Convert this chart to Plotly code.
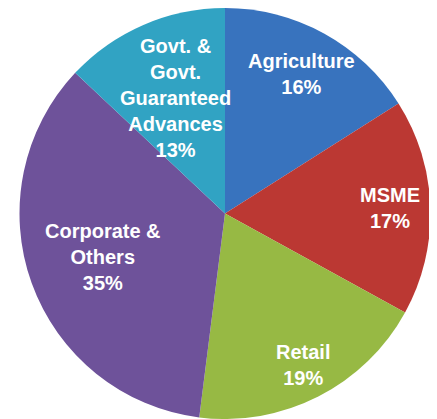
import math
import plotly.graph_objects as go

categories = ["Agriculture", "MSME", "Retail", "Corporate &<br>Others", "Govt. &<br>Govt.<br>Guaranteed<br>Advances"]
values = [16, 17, 19, 35, 13]
colors = ["#3873BE", "#BB3833", "#97B944", "#6E529A", "#31A3C3"]
label_radius = [0.77, 0.80, 0.83, 0.63, 0.61]

# the page body has an 8px margin, so the figure is drawn offset by 8px
OFF = 8
W, H = 437 - OFF, 419 - OFF
cx, cy, r = 225 - OFF, 213 - OFF, 206

fig = go.Figure(go.Pie(
    labels=categories,
    values=values,
    sort=False,
    direction="clockwise",
    rotation=0,
    marker=dict(colors=colors, line=dict(width=0)),
    textinfo="none",
    hoverinfo="label+percent",
    showlegend=False,
    domain=dict(x=[max(0, (cx - r) / W), min(1, (cx + r) / W)],
                y=[max(0, 1 - (cy + r) / H), min(1, 1 - (cy - r) / H)]),
))

total = sum(values)
cum = 0
annotations = []
for lab, v, f in zip(categories, values, label_radius):
    mid = (cum + v / 2) / total * 2 * math.pi
    cum += v
    px = cx + r * f * math.sin(mid)
    py = cy - r * f * math.cos(mid)
    pct = round(v / total * 100)
    annotations.append(dict(
        x=px / W, y=1 - py / H, xref="paper", yref="paper",
        text=f"{lab}<br>{pct}%", showarrow=False,
        font=dict(family="Liberation Sans, Arial, sans-serif", size=20, color="white", weight="bold"),
        align="center", xanchor="center", yanchor="middle",
    ))

fig.update_layout(
    width=W, height=H,
    margin=dict(l=0, r=0, t=0, b=0),
    paper_bgcolor="white",
    plot_bgcolor="white",
    annotations=annotations,
)

fig.write_html("out.html")
